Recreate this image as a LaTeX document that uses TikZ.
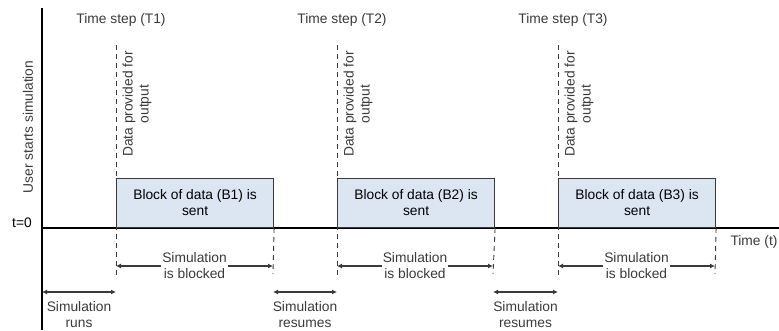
\documentclass[tikz,border=0pt]{standalone}
\usepackage{fontspec}
\setmainfont{Liberation Sans}
\usepackage{xcolor}
\usetikzlibrary{arrows.meta,positioning}
\definecolor{blockfill}{HTML}{DCE6F2}
\definecolor{linegray}{HTML}{3A3A3A}

\begin{document}
\begin{tikzpicture}[
    x=1pt, y=1pt,
    font=\fontsize{13.8}{16}\selectfont,
    axis/.style={line width=1.6pt, black},
    block/.style={draw=linegray, line width=1.1pt, fill=blockfill, minimum width=157pt,
                  minimum height=49pt, anchor=south west, align=center, inner sep=0pt},
    guide/.style={linegray, line width=0.9pt, dash pattern=on 5pt off 4pt},
    span/.style={{Latex[length=5pt,width=5pt]}-{Latex[length=5pt,width=5pt]}, line width=1.2pt, linegray},
    spanlabel/.style={fill=white, align=center, inner sep=1pt, text=linegray},
    runlabel/.style={below=2pt, align=center, inner sep=1pt, text=linegray},
    steplabel/.style={anchor=center, text=linegray}
]
\useasboundingbox (0,0) rectangle (779,330);

% Axes
\coordinate (origin) at (42,102);
\coordinate (ytop) at (42,322);
\coordinate (ybot) at (42,0);
\coordinate (xend) at (779,102);
\draw[axis] (ytop) -- (ybot);
\draw[axis] (origin) -- (xend);
\node[anchor=east, inner sep=2pt] (tzero) at (34,107) {t=0};
\node[rotate=90, text=linegray] (user) at (28,203) {User starts simulation};
\node[text=linegray] (timeaxis) at (754,88) {Time (t)};

% Blocks of data
\node[block] (b1) at (116,102) {Block of data (B1) is\\sent};
\node[block] (b2) at (337,102) {Block of data (B2) is\\sent};
\node[block] (b3) at (558,102) {Block of data (B3) is\\sent};

% Time steps
\coordinate (t1top) at (116,285); \coordinate (t1bot) at (116,52);
\coordinate (t2top) at (337,285); \coordinate (t2bot) at (337,52);
\coordinate (t3top) at (558,285); \coordinate (t3bot) at (558,52);
\coordinate (e1bot) at (273,56);
\coordinate (e2bot) at (493,56);
\coordinate (e3bot) at (715,56);
\draw[guide] (t1top) -- (t1bot);
\draw[guide] (t2top) -- (t2bot);
\draw[guide] (t3top) -- (t3bot);
\draw[guide] (b1.south east) -- (e1bot);
\draw[guide] (b2.south east) -- (e2bot);
\draw[guide] (b3.south east) -- (e3bot);

\node[steplabel] (ts1) at (121,310) {Time step (T1)};
\node[steplabel] (ts2) at (342,310) {Time step (T2)};
\node[steplabel] (ts3) at (563,310) {Time step (T3)};

\node[rotate=90, align=center, text=linegray] (out1) at (137,226) {Data provided for\\output};
\node[rotate=90, align=center, text=linegray] (out2) at (358,226) {Data provided for\\output};
\node[rotate=90, align=center, text=linegray] (out3) at (579,226) {Data provided for\\output};

% Blocked intervals
\coordinate (k1a) at (116,64); \coordinate (k1b) at (273,64);
\coordinate (k2a) at (337,64); \coordinate (k2b) at (493,64);
\coordinate (k3a) at (558,64); \coordinate (k3b) at (715,64);
\draw[span] (k1a) -- node[spanlabel]{Simulation\\is blocked} (k1b);
\draw[span] (k2a) -- node[spanlabel]{Simulation\\is blocked} (k2b);
\draw[span] (k3a) -- node[spanlabel]{Simulation\\is blocked} (k3b);

% Running intervals
\coordinate (r0a) at (42,38);  \coordinate (r0b) at (116,38);
\coordinate (r1a) at (273,38); \coordinate (r1b) at (337,38);
\coordinate (r2a) at (493,38); \coordinate (r2b) at (558,38);
\draw[span] (r0a) -- node[runlabel, yshift=-6pt]{Simulation\\runs} (r0b);
\draw[span] (r1a) -- node[runlabel, yshift=-6pt]{Simulation\\resumes} (r1b);
\draw[span] (r2a) -- node[runlabel, yshift=-6pt]{Simulation\\resumes} (r2b);

\end{tikzpicture}
\end{document}
